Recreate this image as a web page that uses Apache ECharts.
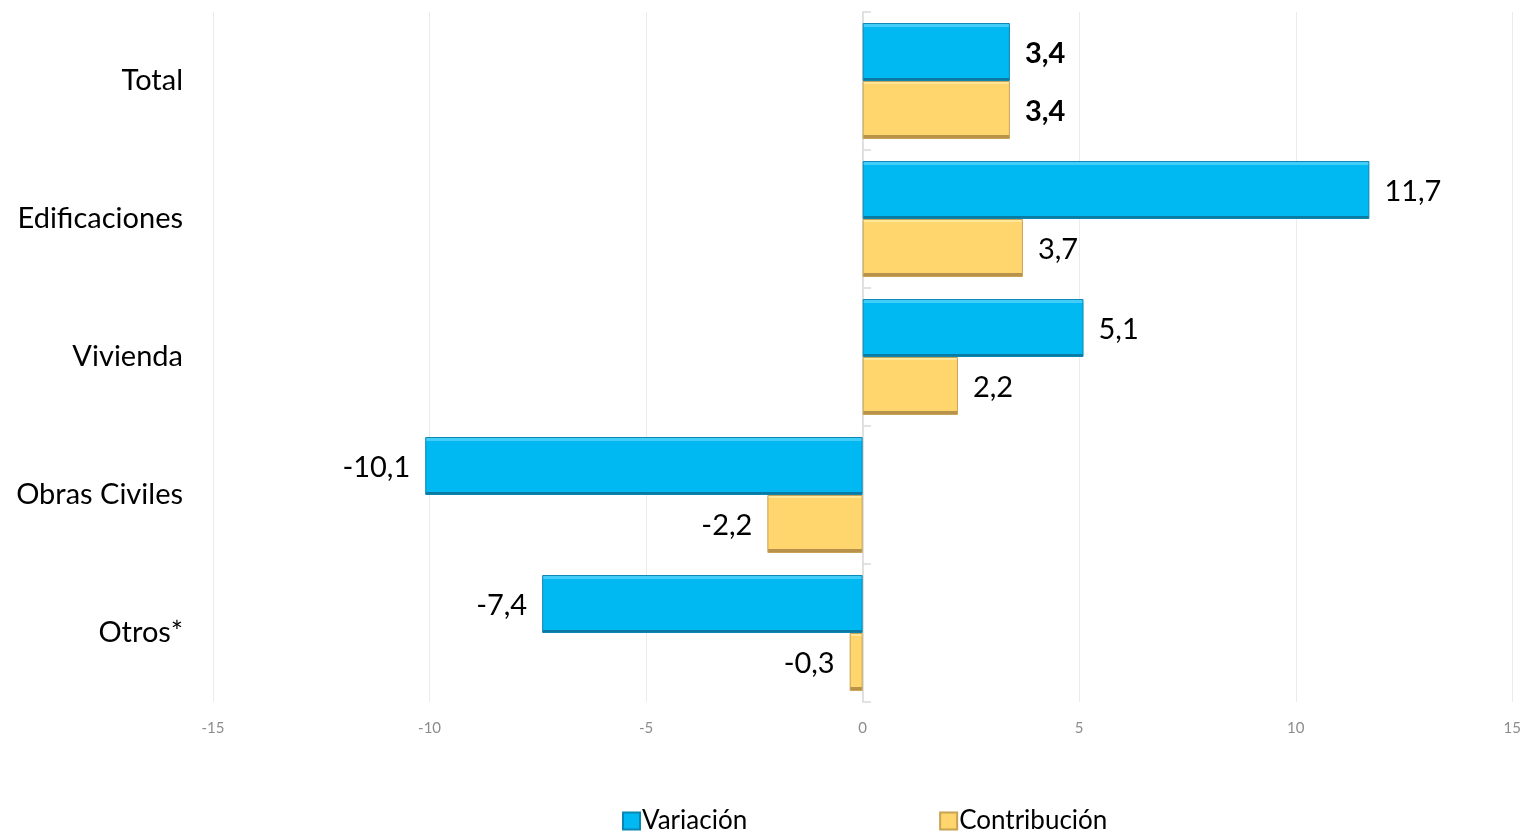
<!DOCTYPE html>
<html>
<head>
<meta charset="utf-8">
<script src="https://cdn.jsdelivr.net/npm/echarts@6/dist/echarts.min.js"></script>
<style>
  html, body { margin: 0; padding: 0; background: #fff; }
  #chart { width: 1524px; height: 834px; }
</style>
</head>
<body>
<div id="chart"></div>
<script>
// datos
const categorias = ["Total", "Edificaciones", "Vivienda", "Obras Civiles", "Otros*"];
const variacion = [3.4, 11.7, 5.1, -10.1, -7.4];
const contribucion = [3.4, 3.7, 2.2, -2.2, -0.3];
const xTicks = { min: -15, max: 15, interval: 5 };

// efecto bisel (gradiente con cortes duros)
const bevel = (light, main, dark) => ({
  type: "linear", x: 0, y: 0, x2: 0, y2: 1,
  colorStops: [
    { offset: 0, color: light }, { offset: 0.06, color: light },
    { offset: 0.06, color: main }, { offset: 0.94, color: main },
    { offset: 0.94, color: dark }, { offset: 1, color: dark },
  ],
});
const blue = bevel("#43cefa", "#00b8f2", "#0b7aa3");
const gold = bevel("#ffe79a", "#ffd66e", "#b8924a");

const fmt = (v) => v.toFixed(1).replace(".", ",");
const toData = (arr) =>
  arr.map((v, i) => ({
    value: v,
    label: {
      position: v < 0 ? "left" : "right",
      fontWeight: i === 0 ? "bold" : "normal",
    },
  }));

const grid = { left: 213, right: 11, top: 12, bottom: 132 };

const chart = echarts.init(document.getElementById("chart"));
chart.setOption({
  animation: false,
  textStyle: { fontFamily: "Lato, 'Open Sans', sans-serif" },
  grid: [grid, Object.assign({}, grid)],
  legend: {
    left: 617,
    top: 803,
    itemGap: 192,
    itemWidth: 17,
    itemHeight: 17,
    icon: "rect",
    textStyle: { fontSize: 26, color: "#000", padding: [0, 0, 0, -3] },
    data: ["Variación", "Contribución"],
  },
  xAxis: [
    {
      type: "value",
      min: xTicks.min,
      max: xTicks.max,
      interval: xTicks.interval,
      axisLine: { show: false },
      axisTick: { show: false },
      axisLabel: { color: "#8c8c8c", fontSize: 15, margin: 19 },
      splitLine: { show: true, lineStyle: { color: "#ebebeb", width: 1 } },
    },
    {
      // eje auxiliar para la linea en cero
      gridIndex: 1,
      type: "value",
      min: xTicks.min,
      max: xTicks.max,
      interval: xTicks.interval,
      axisLine: { show: false },
      axisTick: { show: false },
      axisLabel: { show: false },
      splitLine: { show: false },
    },
  ],
  yAxis: [
    {
      type: "category",
      inverse: true,
      data: categorias,
      axisLine: { show: false },
      axisTick: { show: false },
      axisLabel: { color: "#000", fontSize: 29, margin: 30 },
    },
    {
      gridIndex: 1,
      type: "category",
      inverse: true,
      data: categorias,
      axisLine: { show: true, onZero: true, lineStyle: { color: "#d9d9d9", width: 1.5 } },
      axisTick: { show: true, inside: true, length: 8, lineStyle: { color: "#d9d9d9", width: 1.5 } },
      axisLabel: { show: false },
      splitLine: { show: false },
    },
  ],
  series: [
    {
      name: "Variación",
      type: "bar",
      barGap: "0%",
      barCategoryGap: "16%",
      data: toData(variacion),
      itemStyle: { color: blue, borderColor: "#0a86b3", borderWidth: 1 },
      label: { show: true, fontSize: 29, color: "#000", distance: 15, offset: [0, 2], formatter: (p) => fmt(p.value) },
    },
    {
      name: "Contribución",
      type: "bar",
      barGap: "0%",
      barCategoryGap: "16%",
      data: toData(contribucion),
      itemStyle: { color: gold, borderColor: "#c9a253", borderWidth: 1 },
      label: { show: true, fontSize: 29, color: "#000", distance: 15, offset: [0, 2], formatter: (p) => fmt(p.value) },
    },
  ],
});
</script>
</body>
</html>
